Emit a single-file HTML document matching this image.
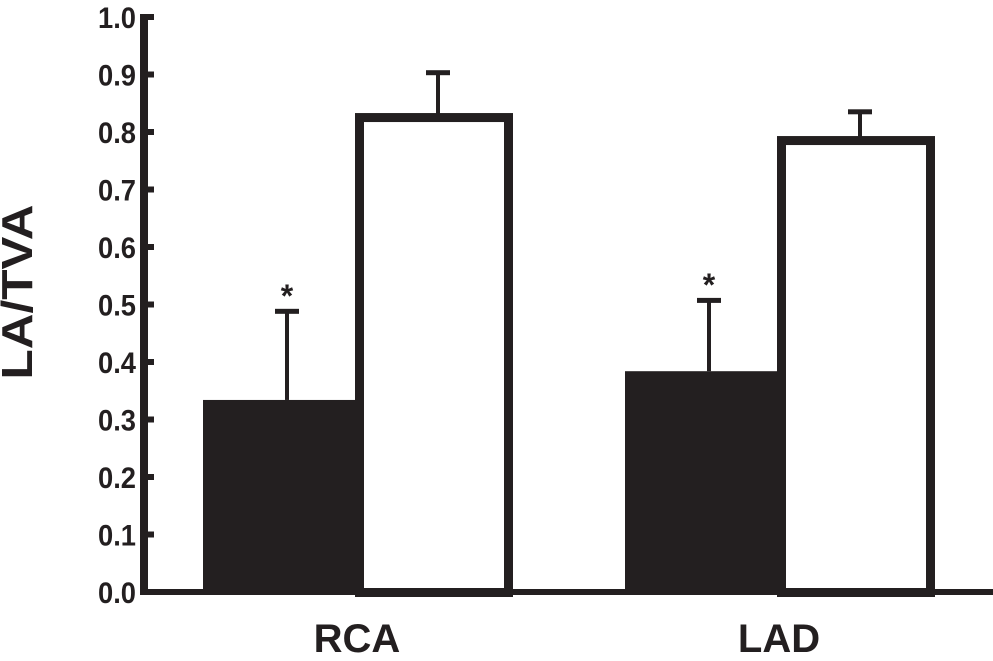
<!DOCTYPE html>
<html><head><meta charset="utf-8"><style>
body{margin:0;background:#fff}
svg text{font-family:"Liberation Sans",sans-serif;font-weight:bold;fill:#231f20}
</style></head><body>
<svg width="993" height="656" viewBox="0 0 993 656" xmlns="http://www.w3.org/2000/svg">
<g id="plot"></g>
</svg>
<script>
const categories=["RCA","LAD"];
const blackValues=[0.334,0.384];
const blackErrors=[0.155,0.124];
const whiteValues=[0.826,0.786];
const whiteErrors=[0.078,0.05];
const yTicks=["0.0","0.1","0.2","0.3","0.4","0.5","0.6","0.7","0.8","0.9","1.0"];
const C="#231f20";
const NS="http://www.w3.org/2000/svg";
const g=document.getElementById('plot');
const y0=592,yPer=575;
function yS(v){return y0-v*yPer;}
const groupX=[203,625];
const bw=152, ww=158, sw=9;
function el(t,a){const e=document.createElementNS(NS,t);for(const k in a)e.setAttribute(k,a[k]);g.appendChild(e);return e;}
let e=el('rect',{x:140,y:14,width:8,height:581,fill:C});


e=el('rect',{x:140,y:589,width:853,height:6,fill:C});


yTicks.forEach((t,i)=>{
  const v=parseFloat(t),y=yS(v);
  let tk=el('rect',{x:146,y:y-3,width:8,height:6,fill:C});
  
  
  let tx=el('text',{x:136,y:y+11,'text-anchor':'end','font-size':30,textLength:38,lengthAdjust:'spacingAndGlyphs'});
  tx.textContent=t;
  
  
});
let yt=el('text',{x:0,y:0,'font-size':44,'text-anchor':'middle',textLength:175,lengthAdjust:'spacingAndGlyphs',transform:'translate(32,292) rotate(-90)'});
yt.textContent='LA/TVA';


categories.forEach((c,i)=>{
  const x=groupX[i];
  const bTop=yS(blackValues[i]),bErr=yS(blackValues[i]+blackErrors[i]);
  const bc=x+bw/2+8;
  let l=el('rect',{x:bc-2,y:bErr,width:4,height:bTop-bErr,fill:C});
  
  
  l=el('rect',{x:bc-12,y:bErr-2,width:24,height:5,fill:C});
  
  
  let b=el('rect',{x:x,y:bTop,width:bw,height:y0-bTop,fill:C});
  
  
  let s=el('text',{x:bc,y:bErr-4,'text-anchor':'middle','font-size':32});
  s.textContent='*';
  
  
  const wx=x+bw, wTop=yS(whiteValues[i]), wErr=yS(whiteValues[i]+whiteErrors[i]);
  const wc=wx+ww/2+4;
  l=el('rect',{x:wc-2,y:wErr,width:4,height:wTop-wErr,fill:C});
  
  
  l=el('rect',{x:wc-12,y:wErr-2,width:24,height:5,fill:C});
  
  
  b=el('rect',{x:wx+sw/2,y:wTop+sw/2-4,width:ww-sw,height:y0-wTop,fill:'none',stroke:C,'stroke-width':sw});
  
  
  let cl=el('text',{x:x+bw+2,y:652,'text-anchor':'middle','font-size':40});
  cl.textContent=c;
  
  
});
</script>
</body></html>
